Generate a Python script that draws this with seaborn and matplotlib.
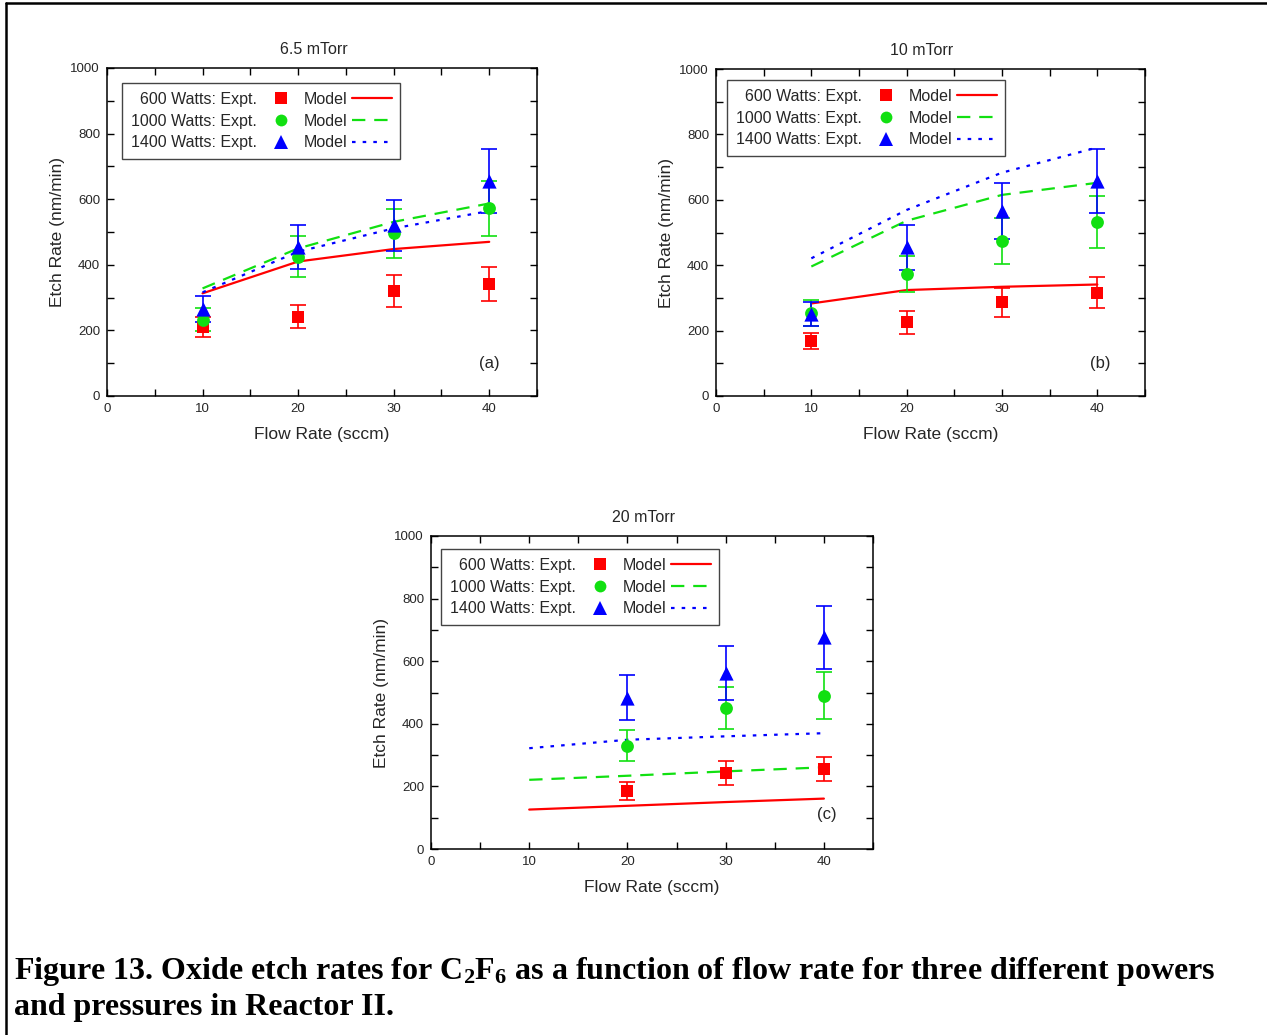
import numpy as np
import pandas as pd
import matplotlib
matplotlib.use("Agg")
import matplotlib.pyplot as plt
from matplotlib.lines import Line2D
from matplotlib.ticker import MultipleLocator
import seaborn as sns

# ---------------- data ----------------
powers = ["600", "1000", "1400"]
power_labels = ["600 Watts: Expt.", "1000 Watts: Expt.", "1400 Watts: Expt."]
panel_titles = ["6.5 mTorr", "10 mTorr", "20 mTorr"]
panel_tags = ["(a)", "(b)", "(c)"]

model_flow = [10, 20, 30, 40]

# 6.5 mTorr
a_expt_flow = [10, 20, 30, 40]
a_expt_600 = [210, 242, 320, 342]
a_err_600 = [30, 36, 48, 51]
a_expt_1000 = [233, 425, 496, 572]
a_err_1000 = [34, 63, 74, 85]
a_expt_1400 = [265, 455, 521, 655]
a_err_1400 = [40, 67, 78, 98]
a_model_600 = [313, 410, 448, 470]
a_model_1000 = [328, 450, 531, 587]
a_model_1400 = [316, 440, 511, 564]

# 10 mTorr
b_expt_flow = [10, 20, 30, 40]
b_expt_600 = [169, 225, 286, 316]
b_err_600 = [25, 34, 43, 47]
b_expt_1000 = [255, 372, 474, 533]
b_err_1000 = [40, 55, 71, 80]
b_expt_1400 = [250, 455, 565, 658]
b_err_1400 = [37, 69, 85, 98]
b_model_600 = [283, 324, 334, 341]
b_model_1000 = [396, 536, 615, 652]
b_model_1400 = [421, 569, 683, 760]

# 20 mTorr
c_expt_flow = [20, 30, 40]
c_expt_600 = [186, 243, 256]
c_err_600 = [28, 38, 38]
c_expt_1000 = [330, 450, 490]
c_err_1000 = [50, 68, 74]
c_expt_1400 = [484, 562, 676]
c_err_1400 = [72, 85, 101]
c_model_600 = [126, 138, 150, 161]
c_model_1000 = [221, 234, 248, 261]
c_model_1400 = [322, 349, 360, 370]

x_ticks = [0, 10, 20, 30, 40]
y_ticks = [0, 200, 400, 600, 800, 1000]

# ---------------- style ----------------
sns.set_style("ticks")
plt.rcParams["font.family"] = ["Liberation Sans", "DejaVu Sans"]
plt.rcParams["mathtext.fontset"] = "custom"
plt.rcParams["mathtext.rm"] = "Liberation Serif:bold"
plt.rcParams["mathtext.bf"] = "Liberation Serif:bold"
plt.rcParams["mathtext.it"] = "Liberation Serif:bold"
plt.rcParams["mathtext.default"] = "bf"

colors = {"600": "#FF0000", "1000": "#11E011", "1400": "#0000FF"}
markers = {"600": "s", "1000": "o", "1400": "^"}
msizes = {"600": 75, "1000": 85, "1400": 105}
dashes = {"600": "", "1000": (6, 4), "1400": (1.6, 3.2)}


def build_frames(expt_flow, expt, errs, models):
    rows_e = []
    for p, vals, ers in zip(powers, expt, errs):
        for f, v, e in zip(expt_flow, vals, ers):
            rows_e.append({"flow": f, "rate": v, "err": e, "power": p})
    rows_m = []
    for p, vals in zip(powers, models):
        for f, v in zip(model_flow, vals):
            rows_m.append({"flow": f, "rate": v, "power": p})
    return pd.DataFrame(rows_e), pd.DataFrame(rows_m)


panels = [
    build_frames(a_expt_flow, [a_expt_600, a_expt_1000, a_expt_1400],
                 [a_err_600, a_err_1000, a_err_1400],
                 [a_model_600, a_model_1000, a_model_1400]),
    build_frames(b_expt_flow, [b_expt_600, b_expt_1000, b_expt_1400],
                 [b_err_600, b_err_1000, b_err_1400],
                 [b_model_600, b_model_1000, b_model_1400]),
    build_frames(c_expt_flow, [c_expt_600, c_expt_1000, c_expt_1400],
                 [c_err_600, c_err_1000, c_err_1400],
                 [c_model_600, c_model_1000, c_model_1400]),
]

W, H = 1267, 1035
fig = plt.figure(figsize=(W / 100, H / 100), dpi=100)

# axes boxes in pixels: left, right, top, bottom
boxes = [(107, 537, 68, 396), (716, 1145, 69, 396), (431, 873, 536, 849)]
legend_anchor = [(0.035, 0.954), (0.026, 0.966), (0.023, 0.958)]
tag_pos = [(0.89, 0.10), (0.895, 0.10), (0.896, 0.11)]

for i, ((l, r, t, b), (df_e, df_m)) in enumerate(zip(boxes, panels)):
    ax = fig.add_axes([l / W, (H - b) / H, (r - l) / W, (b - t) / H])

    sns.lineplot(data=df_m, x="flow", y="rate", hue="power", style="power",
                 hue_order=powers, style_order=powers, palette=colors,
                 dashes=dashes, linewidth=1.6, legend=False, ax=ax, zorder=2)

    for p in powers:
        sub = df_e[df_e["power"] == p]
        ax.errorbar(sub["flow"], sub["rate"], yerr=sub["err"], fmt="none",
                    ecolor=colors[p], elinewidth=1.2, capsize=5.5,
                    capthick=1.2, zorder=3)
        sns.scatterplot(data=sub, x="flow", y="rate", color=colors[p],
                        marker=markers[p], s=msizes[p], linewidth=0,
                        legend=False, ax=ax, zorder=4)

    ax.set_xlim(0, 45)
    ax.set_ylim(0, 1000)
    ax.set_xticks(x_ticks)
    ax.set_xticklabels([str(v) for v in x_ticks])
    ax.set_yticks(y_ticks)
    ax.set_yticklabels([str(v) for v in y_ticks])
    ax.xaxis.set_minor_locator(MultipleLocator(5))
    ax.yaxis.set_minor_locator(MultipleLocator(100))
    ax.tick_params(which="both", direction="in", top=True, right=True,
                   width=1.0, color="black")
    ax.tick_params(which="major", length=5, labelsize=9.5, pad=5)
    ax.tick_params(which="minor", length=5)
    for s in ax.spines.values():
        s.set_linewidth(1.1)
        s.set_color("black")

    ax.set_xlabel("Flow Rate (sccm)", fontsize=12.5, labelpad=9)
    ax.set_ylabel("Etch Rate (nm/min)", fontsize=12.5, labelpad=4)
    ax.set_title(panel_titles[i], fontsize=11.5, pad=10, x=0.48)
    ax.text(tag_pos[i][0], tag_pos[i][1], panel_tags[i], transform=ax.transAxes,
            fontsize=12, ha="center", va="center")

    handles = []
    labels = []
    for p, lab in zip(powers, power_labels):
        handles.append(Line2D([], [], linestyle="none", marker=markers[p],
                              color=colors[p], markersize=9.5 if p == "1400" else 8.5,
                              markeredgewidth=0))
        labels.append(lab)
    for p in powers:
        ls_kw = {"linestyle": "-"} if dashes[p] == "" else {"dashes": dashes[p]}
        handles.append(Line2D([], [], color=colors[p], linewidth=1.6, **ls_kw))
        labels.append("Model")
    leg = ax.legend(handles, labels, ncol=2, markerfirst=False, loc="upper left",
                    bbox_to_anchor=legend_anchor[i], borderaxespad=0,
                    frameon=True, fancybox=False, framealpha=1,
                    edgecolor="#444444", handlelength=2.5, handletextpad=0.25,
                    columnspacing=0.2, fontsize=11.5, labelspacing=0.42,
                    borderpad=0.55)
    leg.get_frame().set_linewidth(1.0)

# page border (top and left)
fig.add_artist(Line2D([6 / W, 1.0], [1 - 3 / H, 1 - 3 / H], transform=fig.transFigure,
                      color="black", linewidth=1.8))
fig.add_artist(Line2D([6 / W, 6 / W], [0, 1 - 3 / H], transform=fig.transFigure,
                      color="black", linewidth=1.8))

# caption
fig.text(14 / W, 1 - 979 / H,
         "Figure 13. Oxide etch rates for C$_{2}$F$_{6}$ as a function of flow rate for three different powers",
         fontfamily="Liberation Serif", fontweight="bold", fontsize=23,
         color="black", ha="left", va="baseline")
fig.text(14 / W, 1 - 1015 / H, "and pressures in Reactor II.",
         fontfamily="Liberation Serif", fontweight="bold", fontsize=23,
         color="black", ha="left", va="baseline")

fig.savefig("out.png", dpi=100)
